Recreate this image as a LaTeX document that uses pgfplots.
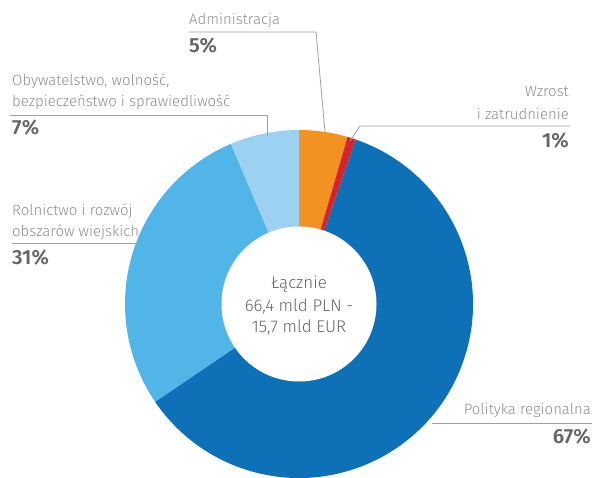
\documentclass[border=0pt]{standalone}
\usepackage{pgfplots}
\pgfplotsset{compat=1.18}
\usepackage{pgfplotstable}
\usepackage{fontspec}
\setmainfont{Fira Sans}[UprightFont={* Light}, BoldFont={* SemiBold}]
\definecolor{cDark}{HTML}{0E71B8}
\definecolor{cLight}{HTML}{52B5E7}
\definecolor{cPale}{HTML}{9DD1F1}
\definecolor{cOrange}{HTML}{F39222}
\definecolor{cRed}{HTML}{D4252E}
\definecolor{cLine}{HTML}{A0A0A0}
\definecolor{cLab}{HTML}{8C8C8C}
\definecolor{cPct}{HTML}{666666}
% share of the ring (percent of 360 degrees), clockwise from 12 o'clock
\pgfplotstableread{
name value color
admin 4.5 cOrange
growth 0.8 cRed
regional 60.2 cDark
agri 28.1 cLight
citizen 6.4 cPale
}\sectors
\newcommand{\lab}{\fontsize{15}{18}\selectfont}
\newcommand{\pct}{\fontsize{20.5}{24}\selectfont\bfseries}
\newcommand{\ctr}{\fontsize{17}{20}\selectfont}
\begin{document}
\begin{tikzpicture}
\begin{axis}[at={(0,0)}, anchor=south west, scale only axis,
  width=592bp, height=478bp, xmin=0, xmax=592, ymin=0, ymax=478,
  hide axis, clip=false]
\pgfplotstablegetrowsof{\sectors}
\pgfmathtruncatemacro\N{\pgfplotsretval-1}
\def\angstart{90}
\pgfplotsforeachungrouped \i in {0,...,\N}{%
  \pgfplotstablegetelem{\i}{value}\of\sectors \let\segval\pgfplotsretval
  \pgfplotstablegetelem{\i}{color}\of\sectors \let\segcol\pgfplotsretval
  \pgfmathsetmacro\angend{\angstart-3.6*\segval}%
  \edef\temp{\noexpand\fill[\segcol] (axis cs:299,174) -- ++(\angstart:174bp) arc[start angle=\angstart, end angle=\angend, radius=174bp] -- cycle;}%
  \temp
  \global\let\angstart\angend
}
\fill[white] (axis cs:299,174) circle[radius=77.5bp];
% leader lines
\draw[cLine, line width=0.8bp] (axis cs:189,446) -- (axis cs:316,446) -- (axis cs:325,346);
\draw[cLine, line width=0.8bp] (axis cs:10,363) -- (axis cs:267,363) -- (axis cs:267,342);
\draw[cLine, line width=0.8bp] (axis cs:570,352) -- (axis cs:360,352) -- (axis cs:350,337);
\draw[cLine, line width=0.8bp] (axis cs:12,235) -- (axis cs:137,235);
\draw[cLine, line width=0.8bp] (axis cs:432,55) -- (axis cs:592,55);
% labels
\node[anchor=base west, inner sep=0, text=cLab, font=\lab] at (axis cs:189,453) {Administracja};
\node[anchor=base west, inner sep=0, text=cPct, font=\pct] at (axis cs:189,425) {5\%};
\node[anchor=base west, inner sep=0, text=cLab, font=\lab] at (axis cs:12,392) {Obywatelstwo, wolność,};
\node[anchor=base west, inner sep=0, text=cLab, font=\lab] at (axis cs:12,371) {bezpieczeństwo i sprawiedliwość};
\node[anchor=base west, inner sep=0, text=cPct, font=\pct] at (axis cs:12,343) {7\%};
\node[anchor=base east, inner sep=0, text=cLab, font=\lab] at (axis cs:569,381) {Wzrost};
\node[anchor=base east, inner sep=0, text=cLab, font=\lab] at (axis cs:569,358) {i zatrudnienie};
\node[anchor=base east, inner sep=0, text=cPct, font=\pct] at (axis cs:569,330) {1\%};
\node[anchor=base west, inner sep=0, text=cLab, font=\lab] at (axis cs:12,262) {Rolnictwo i rozwój};
\node[anchor=base west, inner sep=0, text=cLab, font=\lab] at (axis cs:12,241) {obszarów wiejskich};
\node[anchor=base west, inner sep=0, text=cPct, font=\pct] at (axis cs:12,213) {31\%};
\node[anchor=base east, inner sep=0, text=cLab, font=\lab] at (axis cs:591,63) {Polityka regionalna};
\node[anchor=base east, inner sep=0, text=cPct, font=\pct] at (axis cs:591,34) {67\%};
% centre
\node[anchor=base, inner sep=0, text=cPct, font=\ctr] at (axis cs:299,189) {Łącznie};
\node[anchor=base, inner sep=0, text=cPct, font=\ctr] at (axis cs:299,166) {66,4 mld PLN -};
\node[anchor=base, inner sep=0, text=cPct, font=\ctr] at (axis cs:299,145) {15,7 mld EUR};
\end{axis}
\pgfresetboundingbox
\path (0,0) rectangle (592bp,478bp);
\end{tikzpicture}
\end{document}
